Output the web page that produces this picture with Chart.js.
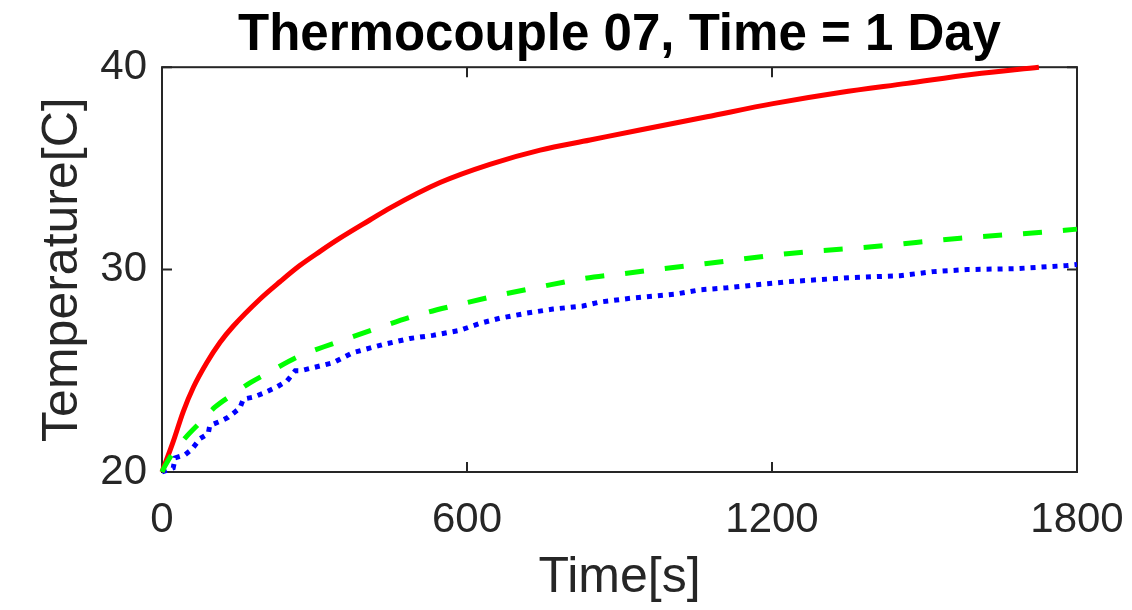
<!DOCTYPE html>
<html>
<head>
<meta charset="utf-8">
<script src="https://cdn.jsdelivr.net/npm/chart.js@4/dist/chart.umd.min.js"></script>
<style>
  html, body { margin: 0; padding: 0; background: #fff; }
  #wrap { width: 1132px; height: 610px; }
</style>
</head>
<body>
<div id="wrap"><canvas id="c" width="1132" height="610"></canvas></div>
<script>
// values
const redTime  = [0, 22, 42, 62, 88, 114, 140, 193, 232, 271, 311, 350, 409, 449, 547, 645, 744, 842, 940, 1072, 1202, 1334, 1466, 1596, 1725];
const redTemp  = [20.0, 21.5, 23.0, 24.2, 25.4, 26.4, 27.2, 28.55, 29.4, 30.2, 30.9, 31.55, 32.45, 33.05, 34.3, 35.2, 35.9, 36.4, 36.9, 37.55, 38.2, 38.75, 39.2, 39.65, 40.0];

const greenTime = [0, 6, 19, 48, 75, 104, 137, 173, 209, 268, 337, 423, 502, 580, 665, 744, 828, 907, 1072, 1235, 1407, 1570, 1733, 1800];
const greenTemp = [20.0, 20.3, 20.85, 21.75, 22.45, 23.2, 23.8, 24.4, 24.9, 25.7, 26.35, 27.1, 27.75, 28.25, 28.75, 29.15, 29.55, 29.8, 30.3, 30.8, 31.15, 31.55, 31.85, 32.0];

const blueTime = [0, 22, 26, 45, 58, 75, 91, 94, 114, 130, 153, 160, 180, 200, 226, 246, 262, 272, 337, 376, 435, 488, 533, 586, 626, 665, 718, 769, 828, 862, 927, 1013, 1058, 1111, 1170, 1230, 1289, 1354, 1452, 1517, 1584, 1682, 1780, 1800];
const blueTemp = [20.0, 20.2, 20.7, 20.85, 21.1, 21.65, 21.9, 22.3, 22.5, 22.7, 23.15, 23.6, 23.7, 23.9, 24.2, 24.5, 25.0, 25.0, 25.4, 25.9, 26.3, 26.6, 26.75, 27.0, 27.35, 27.6, 27.85, 28.05, 28.2, 28.4, 28.6, 28.8, 29.0, 29.1, 29.25, 29.4, 29.5, 29.6, 29.7, 29.9, 30.0, 30.05, 30.2, 30.25];

const xTicks = [0, 600, 1200, 1800];
const yTicks = [20, 30, 40];

const FONT = '"Liberation Sans", Arial, Helvetica, sans-serif';
const AXIS = '#262626';

function pts(xs, ys) { return xs.map((x, i) => ({ x: x, y: ys[i] })); }

// MATLAB-like box with inward ticks
const boxPlugin = {
  id: 'box',
  beforeDatasetsDraw(chart) {
    const { ctx, chartArea: a, scales: { x, y } } = chart;
    ctx.save();
    ctx.strokeStyle = AXIS;
    ctx.lineWidth = 2;
    ctx.strokeRect(a.left, a.top, a.right - a.left, a.bottom - a.top);
    ctx.beginPath();
    xTicks.forEach(v => {
      const px = x.getPixelForValue(v);
      ctx.moveTo(px, a.bottom); ctx.lineTo(px, a.bottom - 10);
      ctx.moveTo(px, a.top); ctx.lineTo(px, a.top + 10);
    });
    yTicks.forEach(v => {
      const py = y.getPixelForValue(v);
      ctx.moveTo(a.left, py); ctx.lineTo(a.left + 10, py);
      ctx.moveTo(a.right, py); ctx.lineTo(a.right - 10, py);
    });
    ctx.stroke();
    ctx.restore();
  }
};

new Chart(document.getElementById('c'), {
  type: 'line',
  data: {
    datasets: [
      {
        data: pts(greenTime, greenTemp), borderColor: '#00ff00', borderWidth: 5,
        borderDash: [19, 21], borderCapStyle: 'butt', cubicInterpolationMode: 'monotone',
        pointRadius: 0, fill: false, order: 0, clip: false
      },
      {
        data: pts(redTime, redTemp), borderColor: '#ff0000', borderWidth: 5,
        cubicInterpolationMode: 'monotone', pointRadius: 0, fill: false, order: 1, clip: false
      },
      {
        data: pts(blueTime, blueTemp), borderColor: '#0000ff', borderWidth: 5,
        borderDash: [5, 6], borderCapStyle: 'butt', tension: 0,
        pointRadius: 0, fill: false, order: 2, clip: false
      }
    ]
  },
  options: {
    responsive: false,
    animation: false,
    devicePixelRatio: 1,
    layout: { padding: { left: 0, right: 55, top: 0, bottom: 0 } },
    plugins: {
      legend: { display: false },
      tooltip: { enabled: false },
      title: {
        display: true,
        fullSize: false,
        text: 'Thermocouple 07, Time = 1 Day',
        color: '#000',
        font: { family: FONT, size: 51, weight: 'bold', lineHeight: 1.2 },
        padding: { top: 5, bottom: 1 }
      }
    },
    scales: {
      x: {
        type: 'linear', min: 0, max: 1800,
        afterBuildTicks: s => { s.ticks = xTicks.map(v => ({ value: v })); },
        afterFit: s => { s.height = 138; s.paddingLeft = 0; s.paddingRight = 0; },
        grid: { display: false, drawTicks: false },
        border: { display: false },
        ticks: {
          color: AXIS, padding: 23, maxRotation: 0,
          callback: v => String(v),
          font: { family: FONT, size: 42, lineHeight: 1.2 }
        },
        title: {
          display: true, text: 'Time[s]', color: AXIS,
          font: { family: FONT, size: 50, lineHeight: 1.2 },
          padding: { top: 0, bottom: 2 }
        }
      },
      y: {
        type: 'linear', min: 20, max: 40,
        afterBuildTicks: s => { s.ticks = yTicks.map(v => ({ value: v })); },
        afterFit: s => { s.width = 162; s.paddingTop = 0; s.paddingBottom = 0; },
        grid: { display: false, drawTicks: false },
        border: { display: false },
        ticks: {
          color: AXIS, padding: 15,
          callback: v => String(v),
          font: { family: FONT, size: 42, lineHeight: 1.2 }
        },
        title: {
          display: true, text: 'Temperature[C]', color: AXIS,
          font: { family: FONT, size: 50, lineHeight: 1.2 },
          padding: { top: 33, bottom: 0 }
        }
      }
    }
  },
  plugins: [boxPlugin]
});
</script>
</body>
</html>
